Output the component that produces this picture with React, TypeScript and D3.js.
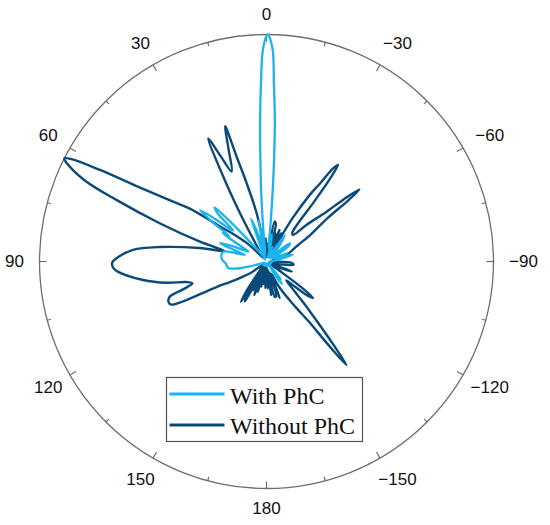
import React from "react";
import * as d3 from "d3";

// angle in degrees (counter-clockwise from top), normalised radius 0..1
const withPhC: [number, number][] = [
  [0.9, 0.94], [1.8, 0.78], [2.6, 0.62], [3.6, 0.42], [4.8, 0.25], [6, 0.12], [7.5, 0.04], [9, 0.1],
  [11, 0.185], [12.5, 0.05], [14, 0.02], [16, 0.1], [18, 0.15], [19.9, 0.2], [21.5, 0.06], [24, 0.02],
  [27, 0.05], [30, 0.01], [34, 0.04], [38, 0.07], [41.3, 0.165], [42.5, 0.25], [43.8, 0.33], [45.5, 0.3],
  [47, 0.2], [48.5, 0.22], [50.5, 0.3], [52.2, 0.37], [53.8, 0.3], [55.5, 0.2], [57, 0.23], [58.5, 0.16],
  [61, 0.09], [64, 0.12], [66.5, 0.18], [68.6, 0.22], [70.5, 0.15], [73, 0.1], [75.5, 0.17], [77.2, 0.195],
  [80, 0.2], [84, 0.2], [88, 0.195], [92.6, 0.18], [97, 0.175], [100, 0.17], [103, 0.14], [106, 0.08],
  [110, 0.03], [115, 0.01], [125, 0.02], [135, 0.01], [145, 0.02], [160, 0.01], [175, 0.02], [190, 0.01],
  [200, 0.02], [208, 0.02], [212, 0.08], [214.5, 0.12], [216.5, 0.05], [219, 0.1], [221, 0.03], [230, 0.01],
  [245, 0.02], [260, 0.01], [272, 0.02], [280, 0.06], [285, 0.12], [288, 0.04], [292, 0.1], [296, 0.03],
  [300, 0.04], [305, 0.12], [308, 0.13], [311, 0.05], [315, 0.02], [320, 0.08], [325, 0.14], [328, 0.05],
  [333, 0.02], [338, 0.07], [342, 0.02], [346, 0.08], [349, 0.12], [351.5, 0.06], [353.5, 0.14], [354.6, 0.25],
  [355.6, 0.42], [356.6, 0.62], [357.6, 0.78], [358.4, 0.94], [359.7, 1.0],
];

const withoutPhC: [number, number][] = [
  [0, 0.02], [2, 0.1], [4, 0.02], [6, 0.11], [8, 0.03], [9.5, 0.08], [11.5, 0.216], [14.2, 0.355],
  [15.9, 0.48], [17, 0.624], [18.6, 0.526], [21.2, 0.425], [23.6, 0.51], [25.3, 0.6], [27, 0.42], [28.8, 0.24],
  [31, 0.1], [33.5, 0.05], [36, 0.02], [39, 0.05], [42, 0.02], [44.5, 0.05], [47, 0.12], [50, 0.18],
  [53, 0.256], [55.4, 0.41], [57.6, 0.5], [59.7, 0.645], [61.2, 0.837], [62.3, 0.97], [63, 1.0], [63.8, 0.98],
  [65.9, 0.88], [67.7, 0.715], [70.3, 0.5], [73.4, 0.306], [76, 0.19], [78.6, 0.3], [82.3, 0.475], [85, 0.59],
  [88.7, 0.66], [90.5, 0.68], [92.5, 0.675], [94, 0.655], [98.5, 0.55], [102, 0.45], [104.4, 0.364], [106.5, 0.34],
  [108.5, 0.39], [110, 0.454], [112.5, 0.467], [114.4, 0.46], [117, 0.25], [121, 0.15], [126, 0.08], [132, 0.02],
  [138, 0.04], [142, 0.02], [144, 0.06], [146, 0.16], [147.8, 0.21], [149, 0.05], [150, 0.18], [151.9, 0.2],
  [153, 0.04], [154.5, 0.14], [156, 0.03], [158, 0.12], [160.4, 0.157], [162, 0.04], [164, 0.138], [166, 0.03],
  [168, 0.113], [170, 0.02], [172, 0.1], [174, 0.02], [177.5, 0.118], [180, 0.03], [183, 0.12], [186, 0.03],
  [188, 0.149], [190, 0.04], [193, 0.159], [195.4, 0.16], [197, 0.05], [199.8, 0.172], [202, 0.06], [205, 0.1],
  [208, 0.15], [211, 0.2], [213, 0.25], [215.2, 0.325], [216.5, 0.45], [217.7, 0.576], [218.8, 0.47], [220.3, 0.338],
  [222, 0.24], [224, 0.16], [226.5, 0.12], [228.5, 0.17], [230.5, 0.24], [232, 0.26], [233.5, 0.19], [235, 0.06],
  [238, 0.02], [241, 0.02], [245, 0.06], [248.4, 0.12], [252, 0.03], [258, 0.06], [263, 0.12], [267, 0.11],
  [270, 0.03], [276, 0.02], [282, 0.04], [289.4, 0.097], [293, 0.12], [297, 0.15], [301, 0.22], [305.4, 0.33],
  [306.8, 0.45], [307.8, 0.518], [308.8, 0.44], [309.7, 0.34], [312.5, 0.24], [315.2, 0.165], [318, 0.17], [320, 0.2],
  [321.5, 0.34], [322.5, 0.46], [323.5, 0.53], [324.5, 0.5], [325.5, 0.42], [327, 0.35], [329, 0.22], [331, 0.06],
  [333, 0.14], [335, 0.03], [337.6, 0.15], [339.5, 0.03], [342, 0.13], [344, 0.03], [346, 0.17], [348.6, 0.18],
  [350, 0.04], [352, 0.12], [354, 0.02], [356, 0.08], [358, 0.02],
];

const tickAngles = d3.range(0, 360, 15);
const labelAngles = [0, 30, 60, 90, 120, 150, 180, 210, 240, 270, 300, 330];
const labelTexts = ["0", "30", "60", "90", "120", "150", "180", "\u2212150", "\u2212120", "\u221290", "\u221260", "\u221230"];

const seriesNames = ["With PhC", "Without PhC"];
const seriesColors = ["#1ab3ec", "#0a4a78"];

const W = 550;
const H = 525;
const cx = 266.5;
const cy = 261.5;
const R = 227;

export default function App() {
  const rScale = d3.scaleLinear().domain([0, 1]).range([0, R]);
  const line = d3
    .lineRadial<[number, number]>()
    .angle((d) => (-d[0] * Math.PI) / 180)
    .radius((d) => rScale(d[1]))
    .curve(d3.curveCatmullRomClosed.alpha(0.5));

  const pt = (deg: number, r: number) => {
    const a = (deg * Math.PI) / 180;
    return [cx - r * Math.sin(a), cy - r * Math.cos(a)];
  };

  return (
    <svg
      width={W}
      height={H}
      style={{ position: "absolute", left: 0, top: 0, background: "#fff" }}
      fontFamily="'Liberation Sans', Arial, sans-serif"
    >
      <rect width={W} height={H} fill="#fff" />
      <circle cx={cx} cy={cy} r={R} fill="none" stroke="#6e6e6e" strokeWidth={1.3} />
      {tickAngles.map((a) => {
        const len = a % 30 === 0 ? 7 : 4;
        const [x1, y1] = pt(a, R);
        const [x2, y2] = pt(a, R - len);
        return <line key={a} x1={x1} y1={y1} x2={x2} y2={y2} stroke="#6e6e6e" strokeWidth={1.2} />;
      })}
      {labelAngles.map((a, i) => {
        const neg = a > 180;
        const rr = a === 0 || a === 180 ? 247 : 252;
        const [x, y] = pt(a, rr);
        return (
          <text key={a} x={x + (neg ? 5 : 0)} y={y} fontSize={17} fill="#111" textAnchor="middle" dominantBaseline="central">
            {labelTexts[i]}
          </text>
        );
      })}
      <g transform={`translate(${cx},${cy})`} fill="none" strokeLinejoin="round">
        <path d={line(withoutPhC) || ""} stroke={seriesColors[1]} strokeWidth={2.4} />
        <path d={line(withPhC) || ""} stroke={seriesColors[0]} strokeWidth={2.3} />
      </g>
      <g>
        <rect x={166.5} y={377.5} width={196} height={64} fill="#fff" stroke="#555" strokeWidth={1.2} />
        {seriesNames.map((n, i) => (
          <g key={n}>
            <line x1={169.5} x2={224.5} y1={394 + i * 31} y2={394 + i * 31} stroke={seriesColors[i]} strokeWidth={3} />
            <text x={230} y={404 + i * 30} fontSize={24} fontFamily="'Liberation Serif', 'Times New Roman', serif" fill="#111">
              {n}
            </text>
          </g>
        ))}
      </g>
    </svg>
  );
}
